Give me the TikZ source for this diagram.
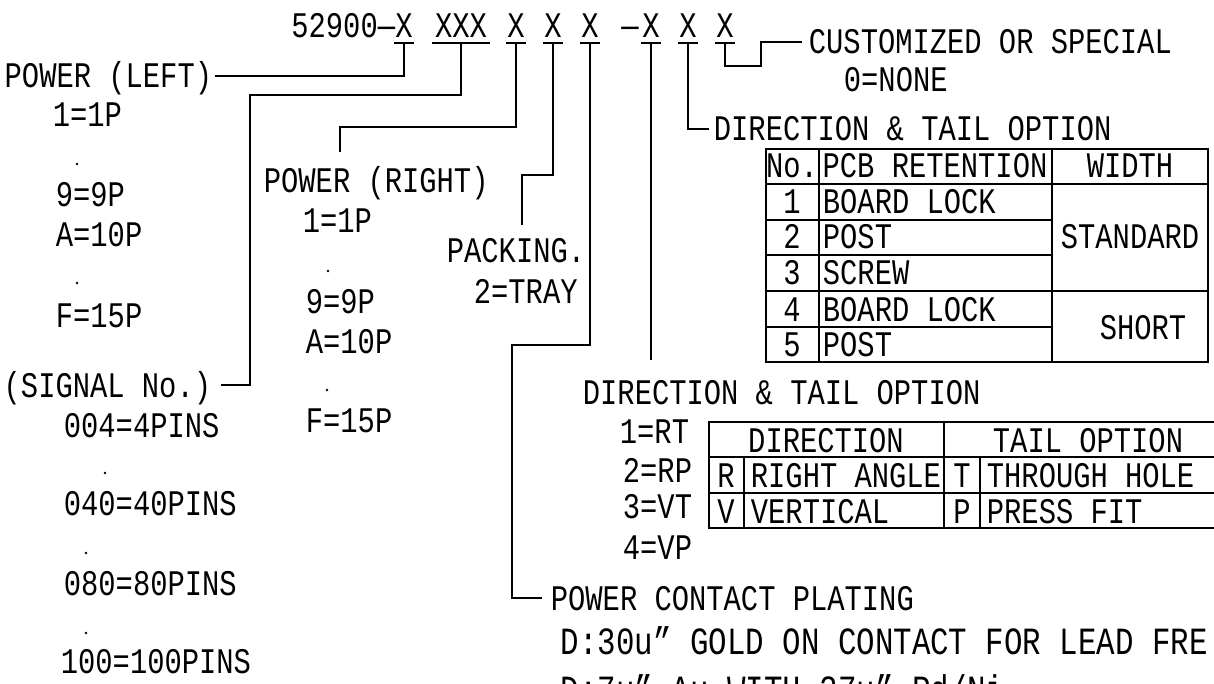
\documentclass[tikz,border=0pt]{standalone}
\usepackage{fontspec}
\setmainfont{Liberation Mono}[FakeStretch=0.8]

\begin{document}
\begin{tikzpicture}[x=1pt,y=-1pt,line width=1.8pt,
  font=\fontsize{36}{40}\selectfont,
  txt/.style={inner sep=0pt,text height=24pt,text depth=0pt},
  lbl/.style={txt,anchor=base west},
  big/.style={lbl,font=\fontsize{38.5}{44}\selectfont},
  digit/.style={txt,anchor=south,inner ysep=5pt,minimum width=19pt}]
  \useasboundingbox (0,0) rectangle (1214,684);

  \node[txt,anchor=base east] (head) at (396,38) {52900—};
  \node[digit] (x1) at (404,43) {X};
  \node[digit,minimum width=56pt] (x2) at (461,43) {XXX};
  \node[digit] (x3) at (516,43) {X};
  \node[digit] (x4) at (553,43) {X};
  \node[digit] (x5) at (590,43) {X};
  \node[txt,anchor=base] (dash) at (630,38) {—};
  \node[digit] (x6) at (651,43) {X};
  \node[digit] (x7) at (688,43) {X};
  \node[digit] (x8) at (725,43) {X};
  \foreach \n in {x1,x2,x3,x4,x5,x6,x7,x8}
    \draw (\n.south west) -- (\n.south east);

  \node[lbl,anchor=base east] (pwrL) at (213,88) {POWER (LEFT)};
  \node[lbl] (l1) at (52,127) {1=1P};
  \node[lbl] (l9) at (55,207) {9=9P};
  \node[lbl] (lA) at (55,247) {A=10P};
  \node[lbl] (lF) at (55,327) {F=15P};
  \fill (77,164) circle (1.3) (77,283) circle (1.3);

  \node[lbl] (pwrR) at (263,193) {POWER (RIGHT)};
  \node[lbl] (r1) at (302,233) {1=1P};
  \node[lbl] (r9) at (305,313) {9=9P};
  \node[lbl] (rA) at (305,353) {A=10P};
  \node[lbl] (rF) at (305,432) {F=15P};
  \fill (328,271) circle (1.3) (327,390) circle (1.3);

  \node[lbl] (pack) at (446,263) {PACKING.};
  \node[lbl] (tray) at (473,303) {2=TRAY};

  \node[lbl,anchor=base east] (sig) at (212,397) {(SIGNAL No.)};
  \node[lbl] (s4) at (63,437) {004=4PINS};
  \node[lbl] (s40) at (63,515) {040=40PINS};
  \node[lbl] (s80) at (63,595) {080=80PINS};
  \node[lbl] (s100) at (60,673) {100=100PINS};
  \fill (105,473) circle (1.3) (86,553) circle (1.3) (86,633) circle (1.3);

  \node[lbl] (cust) at (808,54) {CUSTOMIZED OR SPECIAL};
  \node[lbl] (none) at (843,92) {0=NONE};
  \node[lbl] (dirA) at (713,141) {DIRECTION \& TAIL OPTION};

  \draw (766,149) rectangle (1208,362);
  \draw (819,149) -- (819,362) (1052,149) -- (1052,362);
  \draw (766,184) -- (1208,184) (766,291) -- (1208,291);
  \foreach \y in {220,255,327}
    \draw (766,\y) -- (1052,\y);
  \node[txt] (no) at (792,166) {No.};
  \node[txt] (pcb) at (935,166) {PCB RETENTION};
  \node[txt] (wid) at (1130,166) {WIDTH};
  \foreach \i/\y/\t in {1/202/BOARD LOCK,2/237/POST,3/273/SCREW,4/309/BOARD LOCK,5/344/POST} {
    \node[txt] (n\i) at (792,\y) {\i};
    \node[txt,anchor=west] (p\i) at (822,\y) {\t};
  }
  \node[txt] (std) at (1130,237) {STANDARD};
  \node[txt] (sht) at (1143,327) {SHORT};

  \node[lbl] (dirB) at (582,404) {DIRECTION \& TAIL OPTION};
  \node[lbl] (o1) at (619,443) {1=RT};
  \node[lbl] (o2) at (622,482) {2=RP};
  \node[lbl] (o3) at (622,518) {3=VT};
  \node[lbl] (o4) at (622,559) {4=VP};

  \draw (709,422) rectangle (1232,528);
  \draw (709,457) -- (1232,457) (709,493) -- (1232,493);
  \draw (944,422) -- (944,528) (744,457) -- (744,528) (980,457) -- (980,528);
  \node[txt] (dirH) at (826,440) {DIRECTION};
  \node[txt] (tailH) at (1088,440) {TAIL OPTION};
  \node[txt] (cR) at (726,475) {R};
  \node[txt,anchor=west] (tR) at (750,475) {RIGHT ANGLE};
  \node[txt] (cV) at (726,511) {V};
  \node[txt,anchor=west] (tV) at (750,511) {VERTICAL};
  \node[txt] (cT) at (962,475) {T};
  \node[txt,anchor=west] (tT) at (986,475) {THROUGH HOLE};
  \node[txt] (cP) at (962,511) {P};
  \node[txt,anchor=west] (tP) at (986,511) {PRESS FIT};

  \node[lbl] (plat) at (550,610) {POWER CONTACT PLATING};
  \node[big] (gold) at (560,654) {D:30u” GOLD ON CONTACT FOR LEAD FRE};
  \node[big] (pdni) at (560,702) {D:7u” Au WITH 27u” Pd/Ni};

  \draw (x1.south) |- ([xshift=2pt]pwrL.east);
  \draw (x2.south) -- ++(0,52) -| ([xshift=38pt]sig.east) -- ([xshift=9pt]sig.east);
  \draw (x3.south) -- ++(0,84) -| ([xshift=77pt,yshift=16pt]pwrR.north west);
  \draw (x4.south) -- ++(0,132) -| ([xshift=76pt,yshift=13pt]pack.north west);
  \draw (x5.south) -- ++(0,302) -| ([xshift=-38pt]plat.west) -- ([xshift=-8pt]plat.west);
  \draw (x6.south) -- ++(0,317);
  \draw (x7.south) |- ([xshift=-4pt]dirA.west);
  \draw (x8.south) -- ++(0,23) -| ++(36,-24) -- ([xshift=-6pt]cust.west);
\end{tikzpicture}
\end{document}
